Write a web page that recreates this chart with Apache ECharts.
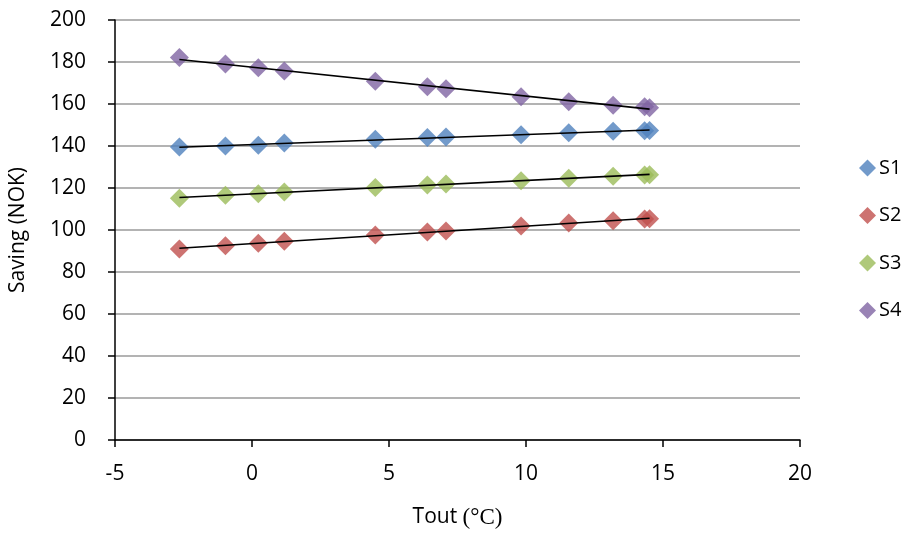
<!DOCTYPE html>
<html>
<head>
<meta charset="utf-8">
<script src="https://cdn.jsdelivr.net/npm/echarts@6/dist/echarts.min.js"></script>
<style>
  html, body { margin: 0; padding: 0; background: #fff; }
  #chart { width: 907px; height: 534px; }
</style>
</head>
<body>
<div id="chart"></div>
<script>
// Outdoor temperature (°C) for each observation
const tout = [-2.65, -0.97, 0.23, 1.18, 4.50, 6.40, 7.08, 9.82, 11.56, 13.18, 14.33, 14.51];

// Saving (NOK) per scenario
const s1 = [139.5, 140.0, 140.3, 141.4, 143.2, 144.0, 144.3, 145.4, 146.3, 147.0, 147.3, 147.4];
const s2 = [91.0, 92.5, 93.7, 94.6, 97.6, 99.0, 99.5, 101.9, 103.3, 104.4, 105.2, 105.4];
const s3 = [115.1, 116.5, 117.3, 118.1, 120.2, 121.4, 121.9, 123.5, 124.6, 125.6, 126.2, 126.3];
const s4 = [182.2, 179.0, 177.3, 175.7, 170.8, 168.2, 167.3, 163.5, 161.1, 159.4, 158.7, 158.2];

const seriesNames = ['S1', 'S2', 'S3', 'S4'];
const seriesValues = [s1, s2, s3, s4];
const colors = ['#4F81BD', '#C0504D', '#9BBB59', '#8064A2'];

// Axis ticks
const xTicks = [-5, 0, 5, 10, 15, 20];
const yTicks = [0, 20, 40, 60, 80, 100, 120, 140, 160, 180, 200];

const FONT = 'Open Sans';

// Least-squares linear trend through a series
function linearFit(xs, ys) {
  const n = xs.length;
  let sx = 0, sy = 0, sxx = 0, sxy = 0;
  for (let i = 0; i < n; i++) {
    sx += xs[i]; sy += ys[i]; sxx += xs[i] * xs[i]; sxy += xs[i] * ys[i];
  }
  const b = (n * sxy - sx * sy) / (n * sxx - sx * sx);
  const a = (sy - b * sx) / n;
  return x => a + b * x;
}

const xMin = Math.min(...tout), xMax = Math.max(...tout);

const scatterSeries = seriesValues.map((vals, i) => ({
  name: seriesNames[i],
  type: 'scatter',
  symbol: 'diamond',
  symbolSize: 19,
  itemStyle: { color: colors[i] },
  z: 2,
  data: tout.map((x, k) => [x, vals[k]])
}));

const trendSeries = seriesValues.map(vals => {
  const f = linearFit(tout, vals);
  return {
    type: 'line',
    symbol: 'none',
    silent: true,
    z: 3,
    lineStyle: { color: '#000', width: 1.6 },
    data: [[xMin, f(xMin)], [xMax, f(xMax)]]
  };
});

const chart = echarts.init(document.getElementById('chart'), null, { renderer: 'canvas' });
chart.setOption({
  animation: false,
  backgroundColor: '#fff',
  grid: { left: 112.7, right: 107, top: 20, bottom: 94, containLabel: false },
  legend: {
    data: seriesNames.map(n => ({ name: n, icon: 'diamond' })),
    orient: 'vertical',
    left: 854,
    top: 153,
    itemWidth: 17,
    itemHeight: 17,
    itemGap: 27.5,
    textStyle: { fontFamily: FONT, fontSize: 20, color: '#000', padding: [0, 0, 0, -2] }
  },
  xAxis: {
    type: 'value',
    min: xTicks[0],
    max: xTicks[xTicks.length - 1],
    interval: 5,
    name: 'Tout {s|(°C)}',
    nameLocation: 'middle',
    nameGap: 66,
    nameTextStyle: {
      fontFamily: FONT, fontSize: 21, color: '#000',
      rich: { s: { fontFamily: 'Liberation Serif', fontSize: 23, color: '#000' } }
    },
    axisLine: { onZero: false, lineStyle: { color: '#000', width: 1.5 } },
    axisTick: { show: true, length: 7, lineStyle: { color: '#000', width: 1.5 } },
    axisLabel: { fontFamily: FONT, fontSize: 21, color: '#000', margin: 24 },
    splitLine: { show: false }
  },
  yAxis: {
    type: 'value',
    min: yTicks[0],
    max: yTicks[yTicks.length - 1],
    interval: 20,
    name: 'Saving (NOK)',
    nameLocation: 'middle',
    nameGap: 86,
    nameTextStyle: { fontFamily: FONT, fontSize: 21, color: '#000' },
    axisLine: { show: true, onZero: false, lineStyle: { color: '#000', width: 1.5 } },
    axisTick: { show: true, length: 7, lineStyle: { color: '#000', width: 1.5 } },
    axisLabel: { fontFamily: FONT, fontSize: 21, color: '#000', margin: 29 },
    splitLine: { show: true, lineStyle: { color: '#9a9a9a', width: 1.5 } }
  },
  series: [...scatterSeries, ...trendSeries]
});
</script>
</body>
</html>
